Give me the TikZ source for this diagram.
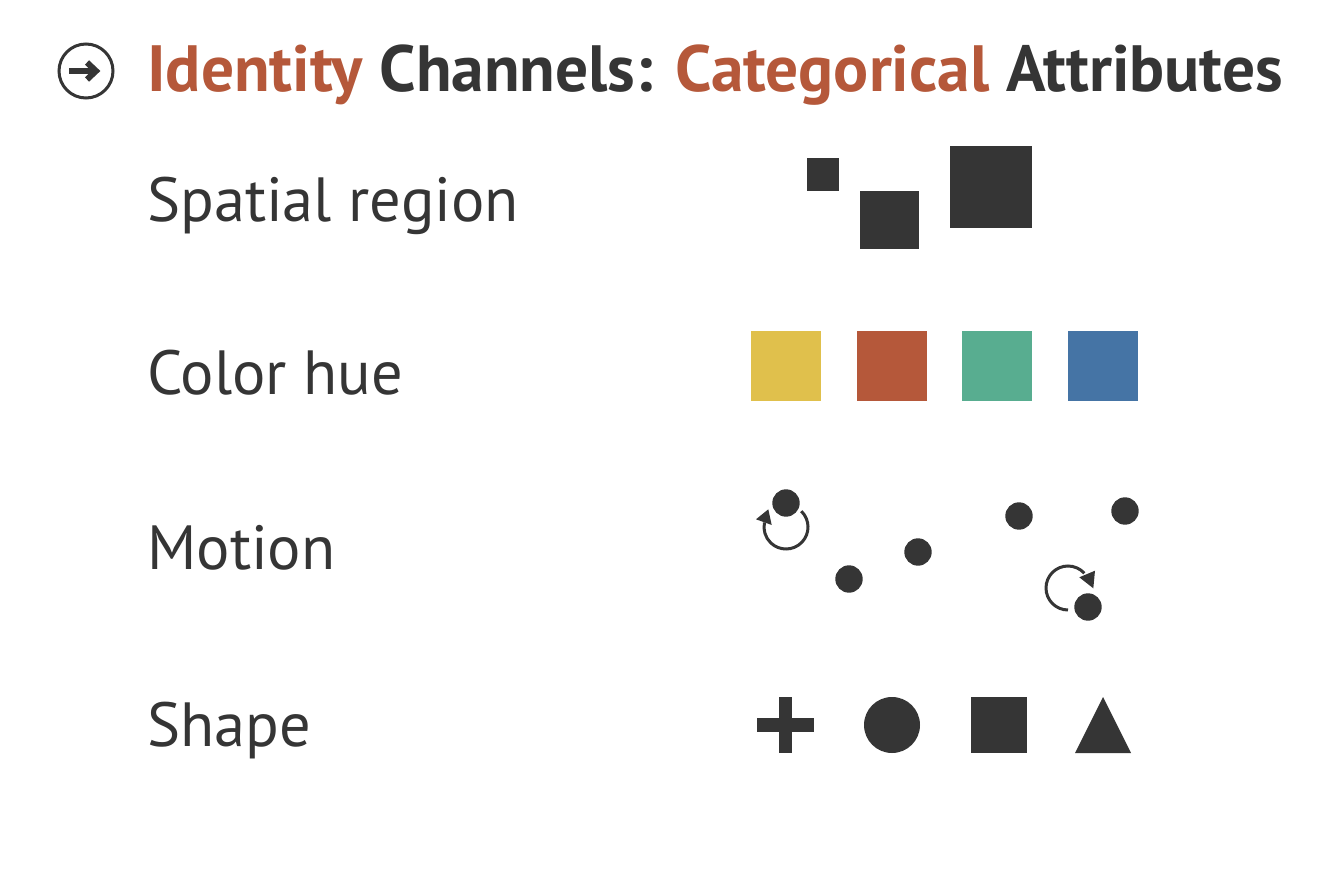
\documentclass[tikz,border=0pt]{standalone}
\usepackage{fontspec}
\setmainfont{PT Sans}
\definecolor{ink}{HTML}{353535}
\definecolor{accent}{HTML}{B5583A}
\definecolor{hueY}{HTML}{E0C04C}
\definecolor{hueR}{HTML}{B5583A}
\definecolor{hueG}{HTML}{58AD90}
\definecolor{hueB}{HTML}{4574A5}
\tikzset{
  label/.style={anchor=base west, inner sep=0pt, text=ink, font=\fontsize{62.4}{70}\selectfont},
  titletext/.style={anchor=base west, inner sep=0pt, text=ink, font=\fontsize{65.4}{70}\selectfont\bfseries},
  mark/.style={fill=ink, draw=none},
  rot/.style={draw=ink, line width=3pt},
}
\begin{document}
\begin{tikzpicture}[x=1pt,y=-1pt]
\useasboundingbox[fill=white] (0,0) rectangle (1342,882);
% header icon
\draw[ink, line width=3pt] (86,71) circle (27);
\draw[ink, line width=5.5pt] (69,71) -- (93,71);
\draw[ink, line width=6pt, miter limit=10] (87,62.5) -- (96,71) -- (87,79.5);
\node[titletext] (title) at (147,92) {{\color{accent}Identity} Channels: {\color{accent}Categorical} Attributes};
% labels
\node[label] (lspatial) at (147,222) {Spatial region};
\node[label] (lcolor) at (147,395) {Color hue};
\node[label] (lmotion) at (147,569) {Motion};
\node[label] (lshape) at (147,746) {Shape};
% spatial region
\fill[ink] (806.7,158.3) rectangle (839.3,190.7);
\fill[ink] (860.3,191) rectangle (918.7,249.3);
\fill[ink] (950,146) rectangle (1031.7,227.7);
% color hue
\fill[hueY] (751,330.7) rectangle (821,400.7);
\fill[hueR] (856.7,330.7) rectangle (926.7,400.7);
\fill[hueG] (962.3,330.7) rectangle (1032.3,400.7);
\fill[hueB] (1068.3,330.7) rectangle (1138.3,400.7);
% motion
\draw[rot] (786,527) ++(-46:22) arc[start angle=-46, end angle=192, radius=22];
\fill[ink] (756,519.3) -- (768.3,509.3) -- (771.7,525) -- cycle;
\draw[rot] (1068,588) ++(90:22) arc[start angle=90, end angle=318, radius=22];
\fill[ink] (1079.3,577.3) -- (1095,570.7) -- (1093.3,588.3) -- cycle;
\foreach \p in {(786,503),(849,579),(918,552),(1019,516),(1125,511),(1088,607)}
  \fill[ink] \p circle (13.7);
% shape
\fill[ink] (779,697) rectangle (792,753);
\fill[ink] (757,718) rectangle (814,732);
\fill[ink] (892,725) circle (28);
\fill[ink] (971,697) rectangle (1027,753);
\fill[ink] (1075,753) -- (1103,697) -- (1131,753) -- cycle;
\end{tikzpicture}
\end{document}
